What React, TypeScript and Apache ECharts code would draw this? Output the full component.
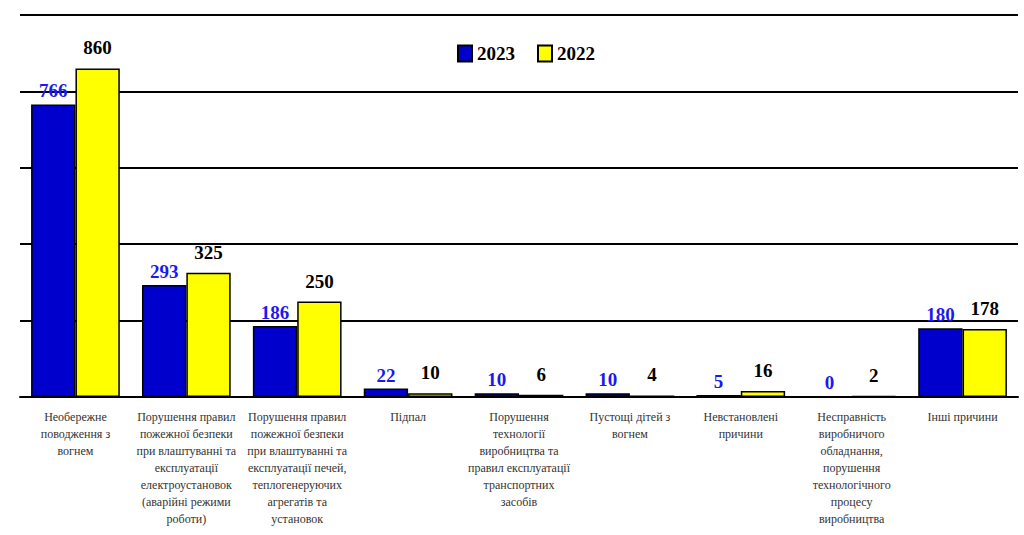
import React, { useEffect, useRef } from 'react';
import * as echarts from 'echarts';

const categories = [
  'Необережне\nповодження з\nвогнем',
  'Порушення правил\nпожежної безпеки\nпри влаштуванні та\nексплуатації\nелектроустановок\n(аварійні режими\nроботи)',
  'Порушення правил\nпожежної безпеки\nпри влаштуванні та\nексплуатації печей,\nтеплогенеруючих\nагрегатів та\nустановок',
  'Підпал',
  'Порушення\nтехнології\nвиробництва та\nправил експлуатації\nтранспортних\nзасобів',
  'Пустощі дітей з\nвогнем',
  'Невстановлені\nпричини',
  'Несправність\nвиробничого\nобладнання,\nпорушення\nтехнологічного\nпроцесу\nвиробництва',
  'Інші причини',
];

const values2023 = [766, 293, 186, 22, 10, 10, 5, 0, 180];
const values2022 = [860, 325, 250, 10, 6, 4, 16, 2, 178];

const FONT = '"Liberation Serif", "Times New Roman", serif';

const App: React.FC = () => {
  const chartRef = useRef<HTMLDivElement>(null);

  useEffect(() => {
    if (!chartRef.current) return;
    const chart = echarts.init(chartRef.current, undefined, { renderer: 'svg' });

    const option: echarts.EChartsOption = {
      animation: false,
      textStyle: { fontFamily: FONT },
      legend: {
        data: ['2023', '2022'],
        icon: 'rect',
        left: 452,
        top: 39,
        itemWidth: 14,
        itemHeight: 16,
        itemGap: 22,
        textStyle: { fontFamily: FONT, fontSize: 19, fontWeight: 'bold', color: '#000' },
      },
      grid: {
        left: 20,
        right: 6,
        top: 15,
        bottom: 138,
        containLabel: false,
      },
      xAxis: {
        type: 'category',
        data: categories,
        axisLine: { lineStyle: { color: '#000', width: 2 } },
        axisTick: { show: false },
        axisLabel: {
          interval: 0,
          color: '#333',
          fontFamily: FONT,
          fontSize: 12,
          lineHeight: 17,
          margin: 11,
          verticalAlign: 'top',
        },
      },
      yAxis: {
        type: 'value',
        min: 0,
        max: 1000,
        interval: 200,
        axisLine: { show: false },
        axisTick: { show: false },
        axisLabel: { show: false },
        splitLine: { lineStyle: { color: '#000', width: 2 } },
      },
      series: [
        {
          name: '2023',
          type: 'bar',
          data: values2023,
          barGap: '0%',
          barCategoryGap: '20%',
          itemStyle: { color: '#0000cc', borderColor: '#000', borderWidth: 1.5 },
          label: {
            show: true,
            position: 'top',
            distance: 4,
            color: '#1a1aee',
            fontFamily: FONT,
            fontSize: 19,
            fontWeight: 'bold',
          },
        },
        {
          name: '2022',
          type: 'bar',
          data: values2022,
          itemStyle: { color: '#ffff00', borderColor: '#000', borderWidth: 1.5 },
          label: {
            show: true,
            position: 'top',
            distance: 11,
            color: '#000',
            fontFamily: FONT,
            fontSize: 19,
            fontWeight: 'bold',
          },
        },
      ],
    };

    chart.setOption(option);
    return () => {
      chart.dispose();
    };
  }, []);

  return (
    <div
      ref={chartRef}
      style={{ position: 'fixed', left: 0, top: 0, width: '1024px', height: '535px', background: '#fff' }}
    />
  );
};

export default App;
